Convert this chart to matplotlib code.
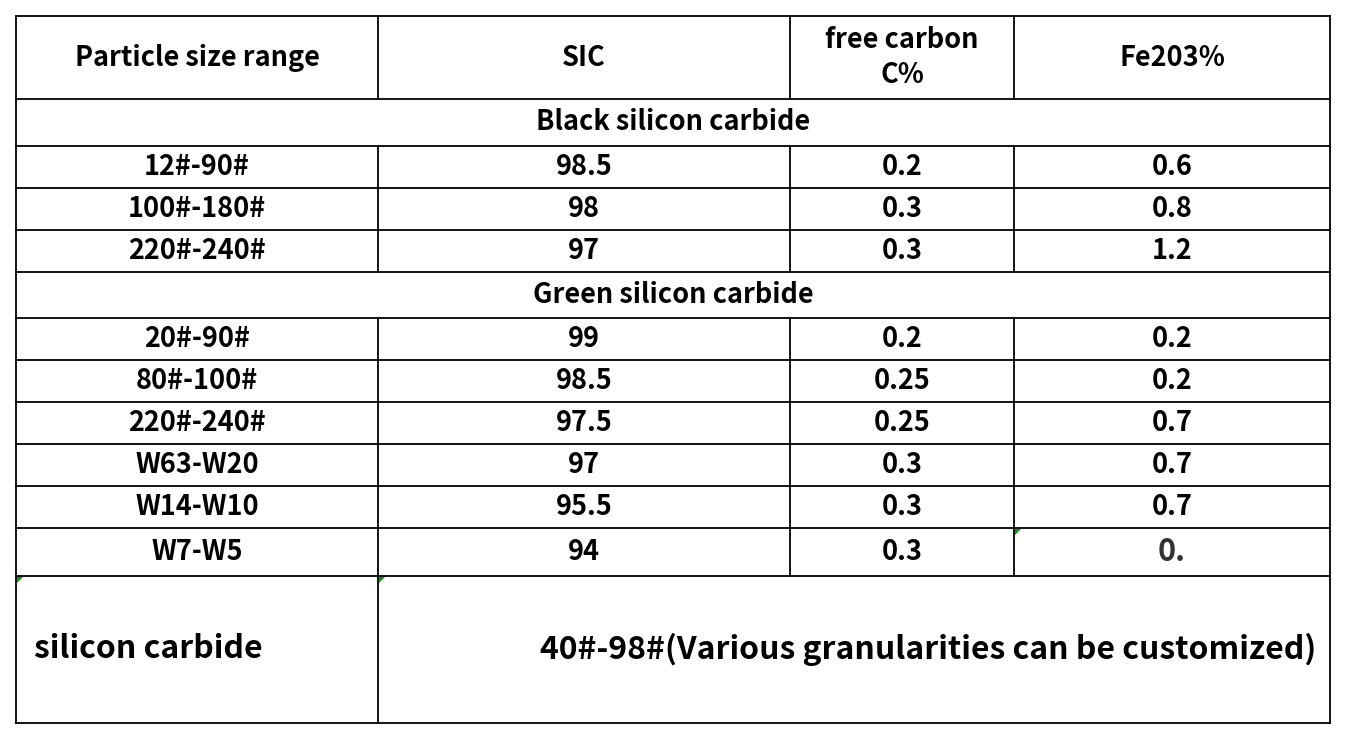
import matplotlib
matplotlib.use("Agg")
import matplotlib.pyplot as plt

headers = ["Particle size range", "SIC", "free carbon\nC%", "Fe203%"]
black_title = "Black silicon carbide"
black_rows = [["12#-90#", "98.5", "0.2", "0.6"],
              ["100#-180#", "98", "0.3", "0.8"],
              ["220#-240#", "97", "0.3", "1.2"]]
green_title = "Green silicon carbide"
green_rows = [["20#-90#", "99", "0.2", "0.2"],
              ["80#-100#", "98.5", "0.25", "0.2"],
              ["220#-240#", "97.5", "0.25", "0.7"],
              ["W63-W20", "97", "0.3", "0.7"],
              ["W14-W10", "95.5", "0.3", "0.7"],
              ["W7-W5", "94", "0.3", "0."]]
last_row = ["silicon carbide", "40#-98#(Various granularities can be customized)"]

plt.rcParams['font.family'] = ['Noto Sans CJK SC', 'DejaVu Sans']
fig = plt.figure(figsize=(13.46, 7.4), dpi=100)
ax = fig.add_axes([0, 0, 1, 1])
ax.set_xlim(0, 1346); ax.set_ylim(740, 0); ax.axis('off')

L, R = 16, 1330
cols = [16, 378, 790, 1014, 1330]
rows = [16, 99, 146, 188, 230, 272, 318, 360, 402, 444, 486, 528, 576, 723]
lw = 1.3
fs = 19.5

def hl(y, x0=L, x1=R):
    ax.plot([x0, x1], [y, y], color='black', lw=lw)
def vl(x, y0, y1):
    ax.plot([x, x], [y0, y1], color='black', lw=lw)

for y in rows:
    hl(y)
vl(L, rows[0], rows[-1]); vl(R, rows[0], rows[-1])
segments = [(0, 1), (2, 5), (6, 12)]
for a, b in segments:
    for x in cols[1:4]:
        vl(x, rows[a], rows[b])
vl(378, rows[12], rows[13])

def row_text(vals, y0, y1):
    yc = (y0 + y1) / 2
    for i, v in enumerate(vals):
        xc = (cols[i] + cols[i + 1]) / 2
        c = 'black'; f = fs
        if v == "0.":
            c = '#333333'; f = 22
        ax.text(xc, yc, v, ha='center', va='center', fontsize=f, fontweight='bold',
                color=c, linespacing=1.3)

row_text(headers, rows[0], rows[1])
ax.text((L + R) / 2, (rows[1] + rows[2]) / 2, black_title, ha='center', va='center',
        fontsize=fs, fontweight='bold')
for k, r in enumerate(black_rows):
    row_text(r, rows[2 + k], rows[3 + k])
ax.text((L + R) / 2, (rows[5] + rows[6]) / 2, green_title, ha='center', va='center',
        fontsize=fs, fontweight='bold')
for k, r in enumerate(green_rows):
    row_text(r, rows[6 + k], rows[7 + k])
yc = (rows[12] + rows[13]) / 2
ax.text(34, yc, last_row[0], ha='left', va='center', fontsize=23, fontweight='bold')
ax.text(1316, yc, last_row[1], ha='right', va='center', fontsize=23, fontweight='bold')

for (x, y) in [(17, 577), (379, 577), (1015, 529)]:
    ax.fill([x, x + 6, x], [y, y, y + 6], color='#1a8c1a', lw=0)

fig.savefig("out.png", dpi=100, facecolor='white')
